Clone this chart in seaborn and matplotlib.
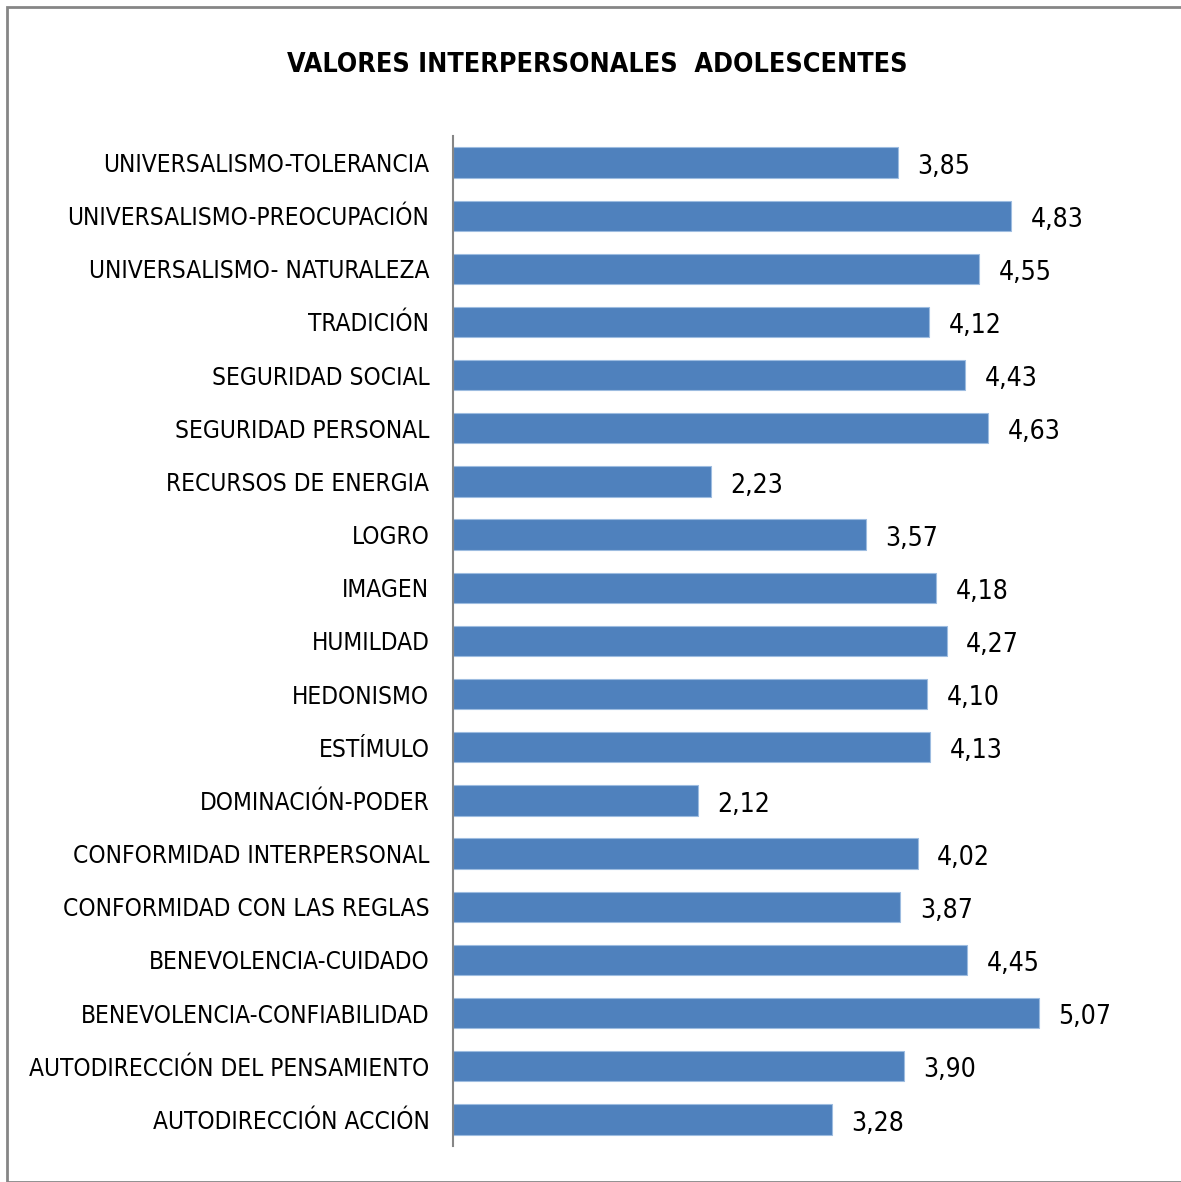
import matplotlib

matplotlib.use('Agg')
import matplotlib.pyplot as plt
import pandas as pd
import seaborn as sns
from matplotlib.patches import Rectangle

categories = [
    'UNIVERSALISMO-TOLERANCIA',
    'UNIVERSALISMO-PREOCUPACIÓN',
    'UNIVERSALISMO- NATURALEZA',
    'TRADICIÓN',
    'SEGURIDAD SOCIAL',
    'SEGURIDAD PERSONAL',
    'RECURSOS DE ENERGIA',
    'LOGRO',
    'IMAGEN',
    'HUMILDAD',
    'HEDONISMO',
    'ESTÍMULO',
    'DOMINACIÓN-PODER',
    'CONFORMIDAD INTERPERSONAL',
    'CONFORMIDAD CON LAS REGLAS',
    'BENEVOLENCIA-CUIDADO',
    'BENEVOLENCIA-CONFIABILIDAD',
    'AUTODIRECCIÓN DEL PENSAMIENTO',
    'AUTODIRECCIÓN ACCIÓN',
]
values = [3.85, 4.83, 4.55, 4.12, 4.43, 4.63, 2.23, 3.57, 4.18, 4.27,
          4.10, 4.13, 2.12, 4.02, 3.87, 4.45, 5.07, 3.90, 3.28]
title = 'VALORES INTERPERSONALES  ADOLESCENTES'

sns.set_style('white')
plt.rcParams['font.family'] = ['DejaVu Sans']
plt.rcParams['font.stretch'] = 'condensed'
plt.rcParams['text.color'] = 'black'
plt.rcParams['ytick.color'] = 'black'

df = pd.DataFrame({'valor': categories, 'media': values})

fig = plt.figure(figsize=(11.81, 11.82), dpi=100)
ax = fig.add_axes([0.3836, 0.0305, 0.5873, 0.8545])
sns.barplot(data=df, y='valor', x='media', orient='h', color='#4F81BD',
            width=0.57, edgecolor='#9DBCE0', linewidth=0.8, ax=ax, saturation=1)
ax.set_xlim(0, 6)
ax.set_ylim(18.5, -0.5)
ax.set_xlabel('')
ax.set_ylabel('')
ax.set_xticks([])
for side in ['top', 'right', 'bottom']:
    ax.spines[side].set_visible(False)
ax.spines['left'].set_color('#868686')
ax.spines['left'].set_linewidth(1.5)
ax.tick_params(axis='y', length=0, pad=17, labelsize=17.6)

for i, v in enumerate(values):
    ax.annotate(f'{v:.2f}'.replace('.', ','), (v, i), xytext=(14, -3),
                textcoords='offset points', ha='left', va='center', fontsize=19)

fig.text(0.506, 0.945, title, ha='center', va='center', fontsize=19.3, fontweight='bold')

fig.patches.append(Rectangle((0.006, 0.0), 1.2, 0.994, transform=fig.transFigure,
                             fill=False, edgecolor='#868686', linewidth=2))

fig.savefig('out.png', dpi=100)
plt.close(fig)
